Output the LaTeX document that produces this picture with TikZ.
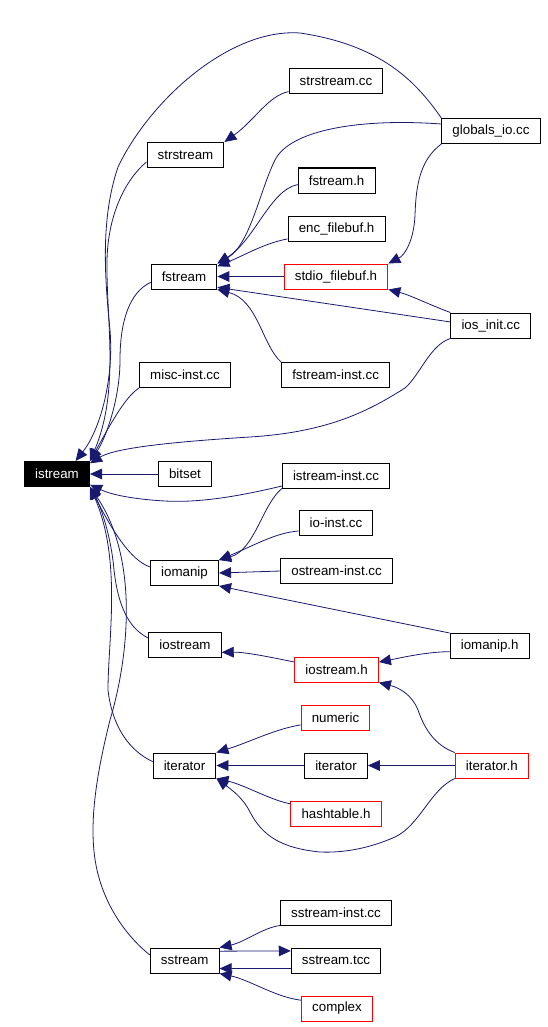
\documentclass[tikz,border=0pt]{standalone}
\usepackage{fontspec}
\setmainfont{Liberation Sans}
\usetikzlibrary{arrows.meta}
\definecolor{edgeblue}{HTML}{191970}
\definecolor{boxred}{HTML}{FF0000}
\tikzset{
    file/.style={
        rectangle, draw=black, fill=white, line width=0.75pt,
        minimum height=18.75pt, inner xsep=8pt, inner ysep=0pt,
        font=\fontsize{10}{12}\selectfont
    },
    redfile/.style={
        file, draw=boxred
    },
    focus/.style={
        file, fill=black, text=white
    },
    dep/.style={
        -{Triangle[length=9pt, width=8pt]}, draw=edgeblue, line width=0.6pt
    }
}

\begin{document}
\begin{tikzpicture}[x=0.75pt, y=-0.75pt]
    \useasboundingbox (0,0) rectangle (548,1027);

    % Nodes
    \node[focus] (istream) at (57,474) {istream};
    \node[file] (strstream) at (185.5,155) {strstream};
    \node[file] (fstream) at (184,276.5) {fstream};
    \node[file] (miscinst) at (185,375) {misc-inst.cc};
    \node[file] (bitset) at (185,474) {bitset};
    \node[file] (iomanip) at (184.5,573) {iomanip};
    \node[file] (iostream) at (185,644.5) {iostream};
    \node[file] (iterator) at (184.5,765.5) {iterator};
    \node[file] (sstream) at (184.7,960.5) {sstream};

    \node[file] (strstreamcc) at (336,81.5) {strstream.cc};
    \node[file] (fstreamh) at (336.6,180.5) {fstream.h};
    \node[file] (encfilebuf) at (336.6,228.5) {enc\_filebuf.h};
    \node[redfile] (stdiofilebuf) at (336,276.5) {stdio\_filebuf.h};
    \node[file] (fstreaminst) at (335.6,375) {fstream-inst.cc};
    \node[file] (istreaminst) at (336,475.5) {istream-inst.cc};
    \node[file] (ioinst) at (336,523) {io-inst.cc};
    \node[file] (ostreaminst) at (336.6,571) {ostream-inst.cc};
    \node[redfile] (iostreamh) at (336.6,669.5) {iostream.h};
    \node[redfile] (numeric) at (335.5,717.5) {numeric};
    \node[file] (iteratorb) at (336,765.5) {iterator};
    \node[redfile] (hashtable) at (336,813.5) {hashtable.h};
    \node[file] (sstreaminst) at (336,912.5) {sstream-inst.cc};
    \node[file] (sstreamtcc) at (336,960.5) {sstream.tcc};
    \node[redfile] (complex) at (337,1008.5) {complex};

    \node[file] (globalsio) at (491,131) {globals\_io.cc};
    \node[file] (iosinit) at (490.8,325.5) {ios\_init.cc};
    \node[file] (iomaniph) at (489.7,646) {iomanip.h};
    \node[redfile] (iteratorh) at (491.8,765.5) {iterator.h};

    % Edges into istream
    \draw[dep] (globalsio.north west) .. controls (415,80) and (380,45) .. (300,33)
        .. controls (230,28) and (150,100) .. (118,167)
        .. controls (100,220) and (105,280) .. (110,330)
        .. controls (114,380) and (100,430) .. (istream.35);
    \draw[dep] (strstream.190) .. controls (125,180) and (108,215) .. (107,260)
        .. controls (106,320) and (120,390) .. (istream.north east);
    \draw[dep] (fstream.190) .. controls (130,292) and (120,320) .. (120,360)
        .. controls (120,400) and (105,440) .. (istream.north east);
    \draw[dep] (miscinst.south west) .. controls (125,397) and (110,425) .. (istream.north east);
    \draw[dep] (iosinit.south west) .. controls (430,345) and (420,375) .. (405,388)
        .. controls (370,410) and (330,432) .. (250,437)
        .. controls (170,442) and (115,448) .. (istream.18);
    \draw[dep] (bitset.west) -- (istream.east);
    \draw[dep] (istreaminst.191) .. controls (240,496) and (200,503) .. (165,501)
        .. controls (130,499) and (110,494) .. (istream.-18);
    \draw[dep] (iomanip.170) .. controls (130,560) and (112,530) .. (istream.south east);
    \draw[dep] (iostream.170) .. controls (128,628) and (118,605) .. (114,570)
        .. controls (111,535) and (100,505) .. (istream.south east);
    \draw[dep] (iterator.173) .. controls (128,750) and (112,725) .. (108,690)
        .. controls (108,640) and (122,560) .. (istream.south east);
    \draw[dep] (sstream.171) .. controls (125,935) and (105,905) .. (97,870)
        .. controls (88,830) and (95,780) .. (110,720)
        .. controls (128,660) and (140,560) .. (istream.south east);

    % Edges into strstream and fstream
    \draw[dep] (strstreamcc.192) .. controls (268,96) and (255,120) .. (strstream.north east);
    \draw[dep] (globalsio.172) .. controls (360,118) and (290,130) .. (275,160)
        .. controls (260,190) and (250,245) .. (fstream.north east);
    \draw[dep] (fstreamh.186) .. controls (270,190) and (255,240) .. (fstream.north east);
    \draw[dep] (encfilebuf.192) .. controls (265,243) and (245,255) .. (fstream.17);
    \draw[dep] (stdiofilebuf.west) -- (fstream.east);
    \draw[dep] (globalsio.south west) .. controls (420,160) and (416,185) .. (415,215)
        .. controls (414,240) and (405,255) .. (stdiofilebuf.north east);
    \draw[dep] (iosinit.north west) .. controls (430,305) and (410,295) .. (stdiofilebuf.south east);
    \draw[dep] (iosinit.175) -- (fstream.-18);
    \draw[dep] (fstreaminst.north west) .. controls (262,345) and (258,300) .. (fstream.south east);

    % Edges into iomanip and iostream
    \draw[dep] (istreaminst.south west) .. controls (262,505) and (255,550) .. (iomanip.north east);
    \draw[dep] (ioinst.192) .. controls (275,533) and (255,545) .. (iomanip.north east);
    \draw[dep] (ostreaminst.west) -- (iomanip.east);
    \draw[dep] (iomaniph.north west) -- (iomanip.south east);
    \draw[dep] (iostreamh.170) .. controls (270,657) and (245,652) .. (iostream.-12);
    \draw[dep] (iomaniph.188) .. controls (425,652) and (400,658) .. (iostreamh.10);
    \draw[dep] (iteratorh.north west) .. controls (435,745) and (425,730) .. (418,710)
        .. controls (412,695) and (400,688) .. (iostreamh.south east);

    % Edges into iterator
    \draw[dep] (numeric.192) .. controls (275,729) and (250,742) .. (iterator.north east);
    \draw[dep] (iteratorb.west) -- (iterator.east);
    \draw[dep] (iteratorh.west) -- (iteratorb.east);
    \draw[dep] (hashtable.168) .. controls (270,800) and (245,785) .. (iterator.south east);
    \draw[dep] (iteratorh.south west) .. controls (430,790) and (420,825) .. (395,837)
        .. controls (370,848) and (345,853) .. (320,852)
        .. controls (280,848) and (262,835) .. (250,812)
        .. controls (243,798) and (232,790) .. (iterator.south east);

    % Edges into sstream
    \draw[dep] (sstreaminst.south west) .. controls (262,928) and (245,942) .. (sstream.north east);
    \draw[dep] (sstream.15) -- (sstreamtcc.168);
    \draw[dep] (sstreamtcc.190) -- (sstream.-13);
    \draw[dep] (complex.167) .. controls (275,997) and (250,980) .. (sstream.south east);

\end{tikzpicture}
\end{document}
